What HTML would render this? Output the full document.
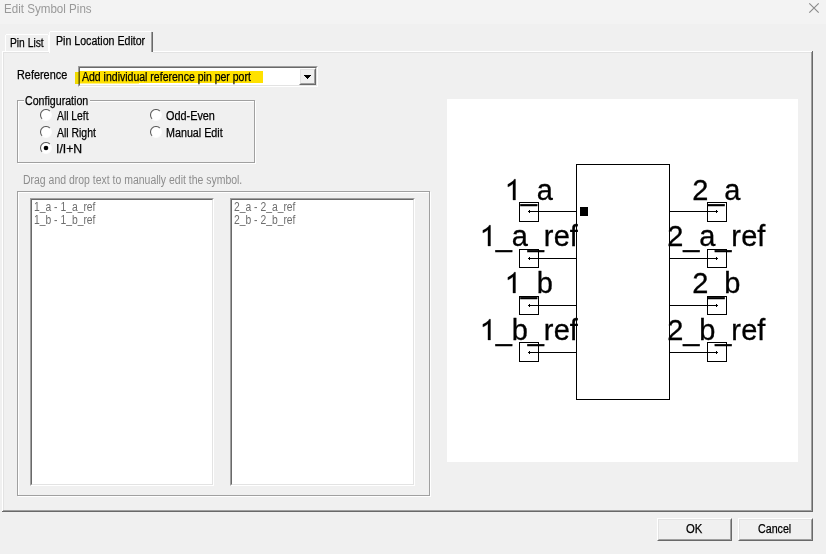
<!DOCTYPE html>
<html><head><meta charset="utf-8">
<style>
html,body{margin:0;padding:0;}
body{width:826px;height:554px;position:relative;overflow:hidden;background:#f0f0f0;font-family:"Liberation Sans",sans-serif;font-size:12px;color:#000;}
.a{position:absolute;}
.t{position:absolute;white-space:nowrap;line-height:13px;font-size:12px;transform-origin:0 0;transform:scaleX(0.88);-webkit-text-stroke:0.25px currentColor;}
.etch{position:absolute;box-sizing:border-box;border:1px solid #a0a0a0;box-shadow:inset 1px 1px 0 0 #fff,1px 1px 0 0 #fff;}
.sunk{position:absolute;box-sizing:border-box;background:#fff;border-style:solid;border-width:1px;border-color:#a0a0a0 #fff #fff #a0a0a0;}
.sunk::before{content:"";position:absolute;left:0;top:0;right:0;bottom:0;border-style:solid;border-width:1px;border-color:#696969 #e3e3e3 #e3e3e3 #696969;}
.btn{position:absolute;background:#f0f0f0;border-style:solid;border-width:1px;border-color:#fff #696969 #696969 #fff;box-sizing:border-box;}
.btn::before{content:"";position:absolute;left:0;top:0;right:0;bottom:0;border-style:solid;border-width:1px;border-color:#e3e3e3 #a0a0a0 #a0a0a0 #e3e3e3;}
.radio{position:absolute;width:12px;height:12px;}
.u{position:relative;top:-1px;}
</style></head><body>
<!-- title bar -->
<div class="a" style="left:0;top:0;width:826px;height:24px;background:#f3f3f3;"></div>
<div class="t" style="left:4px;top:3px;color:#999;transform:scaleX(0.966);-webkit-text-stroke:0;">Edit Symbol Pins</div>
<svg class="a" style="left:808px;top:2px" width="12" height="12" viewBox="0 0 12 12"><path d="M1.3 1.3L10.7 10.7M10.7 1.3L1.3 10.7" stroke="#8a8a8a" stroke-width="1.15" shape-rendering="geometricPrecision"/></svg>

<!-- panel -->
<div class="a" style="left:2px;top:51px;width:810px;height:1px;background:#fff;"></div>
<div class="a" style="left:2px;top:51px;width:1px;height:460px;background:#fff;"></div>
<div class="a" style="left:811px;top:52px;width:1px;height:459px;background:#a0a0a0;"></div>
<div class="a" style="left:812px;top:51px;width:1px;height:461px;background:#696969;"></div>
<div class="a" style="left:3px;top:510px;width:809px;height:1px;background:#a0a0a0;"></div>
<div class="a" style="left:2px;top:511px;width:811px;height:1px;background:#696969;"></div>

<div class="a" style="left:3px;top:52px;width:1px;height:458px;background:#e3e3e3;"></div>
<div class="a" style="left:153px;top:52px;width:658px;height:1px;background:#e3e3e3;"></div>
<!-- tabs -->
<div class="a" style="left:5px;top:34px;width:42px;height:17px;border-style:solid;border-width:1px 1px 0 1px;border-color:#fff;"></div>
<div class="a" style="left:3px;top:52px;width:46px;height:1px;background:#e3e3e3;"></div>
<div class="t" style="left:10px;top:37px;transform:scaleX(0.855);">Pin List</div>
<div class="a" style="left:49px;top:31px;width:102px;height:21px;background:#f0f0f0;border-style:solid;border-width:1px 0 0 1px;border-color:#fff;"></div>
<div class="a" style="left:151px;top:32px;width:1px;height:20px;background:#a0a0a0;"></div>
<div class="a" style="left:152px;top:32px;width:1px;height:20px;background:#696969;"></div>
<div class="t" style="left:55.5px;top:35px;transform:scaleX(0.885);">Pin Location Editor</div>
<div class="a" style="left:49px;top:31px;width:1px;height:1px;background:#f0f0f0;"></div>
<div class="a" style="left:151px;top:31px;width:2px;height:1px;background:#f0f0f0;"></div>
<div class="a" style="left:5px;top:34px;width:1px;height:1px;background:#f0f0f0;"></div>
<div class="a" style="left:48px;top:34px;width:1px;height:1px;background:#f0f0f0;"></div>

<!-- reference -->
<div class="t" style="left:17px;top:69px;transform:scaleX(0.907);">Reference</div>
<div class="sunk" style="left:78px;top:66px;width:240px;height:21px;"></div>
<div class="btn" style="left:299px;top:68px;width:17px;height:17px;"></div>
<svg class="a" style="left:304px;top:75px" width="7" height="4" viewBox="0 0 7 4" shape-rendering="crispEdges"><path d="M0 0h7v1h-1v1h-1v1h-1v1h-1v-1h-1v-1h-1v-1h-1z" fill="#000"/></svg>
<div class="t" style="left:82px;top:71px;transform:scaleX(0.876);">Add individual reference pin per port</div>
<div class="a" style="left:75px;top:72px;width:4px;height:12px;background:#ffe800;mix-blend-mode:multiply;"></div>
<div class="a" style="left:79px;top:71px;width:184px;height:12px;background:#ffe100;mix-blend-mode:multiply;"></div>
<div class="a" style="left:79px;top:83px;width:60px;height:1px;background:#ffe100;opacity:0.5;mix-blend-mode:multiply;"></div>

<!-- configuration group -->
<div class="etch" style="left:17px;top:100px;width:238px;height:63px;"></div>
<div class="a" style="left:24px;top:94px;width:66px;height:12px;background:#f0f0f0;"></div>
<div class="t" style="left:25px;top:95px;transform:scaleX(0.886);">Configuration</div>
<svg class="radio" style="left:40px;top:109px"><use href="#rd"/></svg>
<div class="t" style="left:57px;top:110px;transform:scaleX(0.86);">All Left</div>
<svg class="radio" style="left:40px;top:126px"><use href="#rd"/></svg>
<div class="t" style="left:57px;top:127px;transform:scaleX(0.87);">All Right</div>
<svg class="radio" style="left:40px;top:142px"><use href="#rdc"/></svg>
<div class="t" style="left:56px;top:143px;transform:scaleX(1.02);">I/I+N</div>
<svg class="radio" style="left:150px;top:109px"><use href="#rd"/></svg>
<div class="t" style="left:166px;top:110px;transform:scaleX(0.905);">Odd-Even</div>
<svg class="radio" style="left:150px;top:126px"><use href="#rd"/></svg>
<div class="t" style="left:165.5px;top:127px;transform:scaleX(0.895);">Manual Edit</div>

<!-- drag drop -->
<div class="t" style="left:23px;top:174px;color:#8d8d8d;transform:scaleX(0.872);-webkit-text-stroke:0;">Drag and drop text to manually edit the symbol.</div>
<div class="etch" style="left:17px;top:191px;width:413px;height:305px;"></div>
<div class="sunk" style="left:30px;top:198px;width:184px;height:288px;"></div>
<div class="t" style="left:34px;top:201px;color:#6d6d6d;transform:scaleX(0.86);-webkit-text-stroke:0;">1<span class="u">_</span>a - 1<span class="u">_</span>a<span class="u">_</span>ref<br>1<span class="u">_</span>b - 1<span class="u">_</span>b<span class="u">_</span>ref</div>
<div class="sunk" style="left:230px;top:198px;width:185px;height:288px;"></div>
<div class="t" style="left:233.5px;top:201px;color:#6d6d6d;transform:scaleX(0.86);-webkit-text-stroke:0;">2<span class="u">_</span>a - 2<span class="u">_</span>a<span class="u">_</span>ref<br>2<span class="u">_</span>b - 2<span class="u">_</span>b<span class="u">_</span>ref</div>

<!-- drawing -->
<div class="a" style="left:447px;top:99px;width:351px;height:363px;background:#fff;"></div>
<!--SCHEM-->
<svg id="schem" class="a" style="left:0;top:0" width="826" height="554" viewBox="0 0 826 554">
<rect x="576.5" y="164.5" width="93" height="235" fill="none" stroke="#000" stroke-width="1"/>
<rect x="580" y="207" width="8" height="9" fill="#000"/>
<path d="M528 211.5H576" stroke="#000" stroke-width="1"/>
<rect x="529" y="210" width="1" height="3" fill="#000"/>
<rect x="519.5" y="202.5" width="19" height="19" fill="none" stroke="#000" stroke-width="1"/>
<path d="M670 211.5H718" stroke="#000" stroke-width="1"/>
<rect x="716" y="210" width="1" height="3" fill="#000"/>
<rect x="707.5" y="202.5" width="19" height="19" fill="none" stroke="#000" stroke-width="1"/>
<path d="M528 258.5H576" stroke="#000" stroke-width="1"/>
<rect x="529" y="257" width="1" height="3" fill="#000"/>
<rect x="519.5" y="249.5" width="19" height="18" fill="none" stroke="#000" stroke-width="1"/>
<path d="M670 258.5H718" stroke="#000" stroke-width="1"/>
<rect x="716" y="257" width="1" height="3" fill="#000"/>
<rect x="707.5" y="249.5" width="19" height="18" fill="none" stroke="#000" stroke-width="1"/>
<path d="M528 305.5H576" stroke="#000" stroke-width="1"/>
<rect x="529" y="304" width="1" height="3" fill="#000"/>
<rect x="519.5" y="296.5" width="19" height="18" fill="none" stroke="#000" stroke-width="1"/>
<path d="M670 305.5H718" stroke="#000" stroke-width="1"/>
<rect x="716" y="304" width="1" height="3" fill="#000"/>
<rect x="707.5" y="296.5" width="19" height="18" fill="none" stroke="#000" stroke-width="1"/>
<path d="M528 352.5H576" stroke="#000" stroke-width="1"/>
<rect x="529" y="351" width="1" height="3" fill="#000"/>
<rect x="519.5" y="342.5" width="19" height="19" fill="none" stroke="#000" stroke-width="1"/>
<path d="M670 352.5H718" stroke="#000" stroke-width="1"/>
<rect x="716" y="351" width="1" height="3" fill="#000"/>
<rect x="707.5" y="342.5" width="19" height="19" fill="none" stroke="#000" stroke-width="1"/>
<path d="M515.50 200.00L512.96 200.00L512.96 183.76C512.06 184.61 510.89 185.46 509.42 186.31C508.65 186.76 508.20 186.72 507.86 186.83L507.86 184.37C509.93 183.39 511.74 182.21 513.28 180.84C513.49 180.46 513.90 179.89 514.16 179.24L515.50 179.24Z" fill="#000" stroke="#000" stroke-width="0.3"/>
<text x="520.70 536.70" y="200" font-family="Liberation Sans" font-size="29" stroke="#000" stroke-width="0.3">_a</text>
<path d="M490.50 246.00L487.96 246.00L487.96 229.76C487.06 230.61 485.89 231.46 484.42 232.31C483.65 232.76 483.20 232.72 482.86 232.83L482.86 230.37C484.93 229.39 486.74 228.21 488.28 226.84C488.49 226.46 488.90 225.89 489.16 225.24L490.50 225.24Z" fill="#000" stroke="#000" stroke-width="0.3"/>
<text x="495.70 511.70 527.70 543.70 553.70 569.70" y="246" font-family="Liberation Sans" font-size="29" stroke="#000" stroke-width="0.3">_a_ref</text>
<path d="M515.50 293.00L512.96 293.00L512.96 276.76C512.06 277.61 510.89 278.46 509.42 279.31C508.65 279.76 508.20 279.72 507.86 279.83L507.86 277.37C509.93 276.39 511.74 275.21 513.28 273.84C513.49 273.46 513.90 272.89 514.16 272.24L515.50 272.24Z" fill="#000" stroke="#000" stroke-width="0.3"/>
<text x="520.70 536.70" y="293" font-family="Liberation Sans" font-size="29" stroke="#000" stroke-width="0.3">_b</text>
<path d="M490.50 340.00L487.96 340.00L487.96 323.76C487.06 324.61 485.89 325.46 484.42 326.31C483.65 326.76 483.20 326.72 482.86 326.83L482.86 324.37C484.93 323.39 486.74 322.21 488.28 320.84C488.49 320.46 488.90 319.89 489.16 319.24L490.50 319.24Z" fill="#000" stroke="#000" stroke-width="0.3"/>
<text x="495.70 511.70 527.70 543.70 553.70 569.70" y="340" font-family="Liberation Sans" font-size="29" stroke="#000" stroke-width="0.3">_b_ref</text>
<text x="692.20 708.20 724.20" y="200" font-family="Liberation Sans" font-size="29" stroke="#000" stroke-width="0.3">2_a</text>
<text x="667.20 683.20 699.20 715.20 731.20 741.20 757.20" y="246" font-family="Liberation Sans" font-size="29" stroke="#000" stroke-width="0.3">2_a_ref</text>
<text x="692.20 708.20 724.20" y="293" font-family="Liberation Sans" font-size="29" stroke="#000" stroke-width="0.3">2_b</text>
<text x="667.20 683.20 699.20 715.20 731.20 741.20 757.20" y="340" font-family="Liberation Sans" font-size="29" stroke="#000" stroke-width="0.3">2_b_ref</text>
</svg>
<!--/SCHEM-->

<!-- buttons -->
<div class="btn" style="left:657px;top:518px;width:75px;height:23px;"></div>
<div class="t" style="left:686px;top:523px;transform:scaleX(0.94);">OK</div>
<div class="btn" style="left:738px;top:518px;width:75px;height:23px;"></div>
<div class="t" style="left:758px;top:523px;transform:scaleX(0.89);">Cancel</div>

<svg width="0" height="0" style="position:absolute">
<defs>
<g id="rd"><circle cx="6" cy="6" r="5.5" fill="#fff"/>
<path d="M2.11 9.89A5.5 5.5 0 0 1 9.89 2.11" stroke="#5f5f5f" fill="none" stroke-width="1.1"/>
<path d="M9.89 2.11A5.5 5.5 0 0 1 2.11 9.89" stroke="#fbfbfb" fill="none" stroke-width="1"/>
</g>
<g id="rdc"><use href="#rd"/><circle cx="6" cy="6" r="2.3" fill="#000"/></g>
</defs></svg>
</body></html>
